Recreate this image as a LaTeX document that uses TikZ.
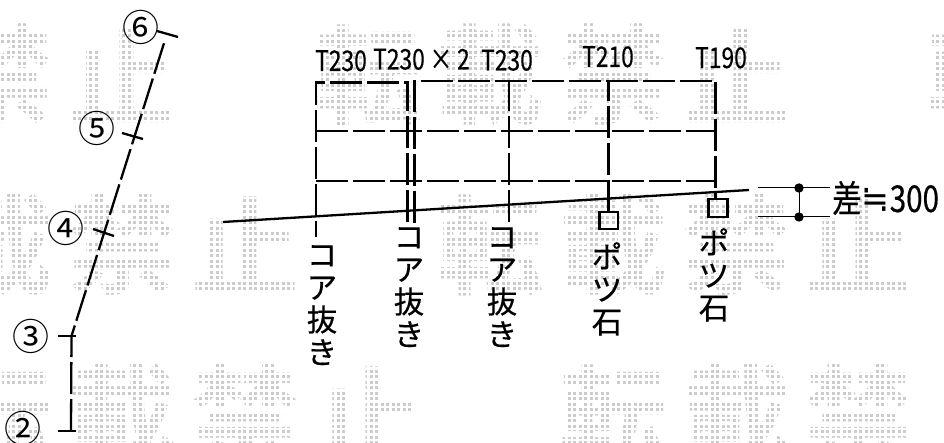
\documentclass[tikz,border=0pt]{standalone}
\usepackage{fontspec}
\newfontfamily\jp[FakeBold=0.4]{Noto Sans CJK JP}
\newfontfamily\jpr{Noto Sans CJK JP}
\newfontfamily\jpn[FakeStretch=0.8,FakeBold=0.4]{Noto Sans CJK JP}
\newfontfamily\wmf{Noto Sans CJK JP Bold}
\newfontfamily\djv[FakeStretch=0.9]{DejaVu Sans}
\tikzset{
  x=1pt,y=-1pt,
  wall/.style={line width=2.3pt,dash pattern=on 32pt off 5pt},
  solidl/.style={line width=2.3pt},
  thinl/.style={line width=1pt},
  thk/.style={font=\jpn\fontsize{28.5}{28.5}\selectfont,inner sep=0pt,anchor=base west},
  num/.style={font=\jpr\fontsize{37}{37}\selectfont,inner sep=0pt},
  vert/.style={font=\jp\fontsize{30.5}{32.5}\selectfont,inner sep=0pt,align=center,anchor=north},
  wmk/.style={font=\wmf\fontsize{108}{108}\selectfont,inner sep=0pt,text=black!20},
}
\begin{document}
\begin{tikzpicture}
  \useasboundingbox (0,0) rectangle (944,443);
  \clip (0,0) rectangle (944,443);
  % watermark
  \foreach \cx/\ch [count=\i] in {0/禁,122.6/止,368/転,490/載,613/禁,736/止,981/転}
  \node [wmk] (wa\i) at (\cx,75) {\ch};
  \foreach \cx/\ch [count=\i] in {0/載,122.6/禁,245/止,490/転,613/載,736/禁,858/止}
  \node [wmk] (wb\i) at (\cx,245) {\ch};
  \foreach \cx/\ch [count=\i] in {0/転,122.6/載,245/禁,368/止,613/転,736/載,858/禁,981/止}
  \node [wmk] (wc\i) at (\cx,415) {\ch};
  \foreach \gx in {0,5.5,...,944}
  \draw [white,line width=2.5pt] (\gx,0) to (\gx,443);
  \foreach \gy in {0,5.5,...,443}
  \draw [white,line width=2.5pt] (0,\gy) to (944,\gy);
  % plan line
  \coordinate (g2) at (71,431);
  \coordinate (g3) at (71.5,336);
  \coordinate (g6) at (165,40);
  \draw [wall] (g2) to (g3) to (g6);
  \draw [solidl] (58,431) to (76,431);
  \draw [solidl] (58,336) to (76,336);
  \draw [solidl] (93,229) to (114,236);
  \draw [solidl] (122,133) to (143,139);
  \draw [solidl] (157,31) to (178,37);
  \node [num] (n6) at (141,27) {⑥};
  \node [num] (n5) at (97,128) {⑤};
  \node [num] (n4) at (66,228) {④};
  \node [num] (n3) at (31,336) {③};
  \node [num] (n2) at (23,428) {②};
  % section
  \draw [wall] (407.5,222) to (407.5,82.5) to (316,82.5) to (316,237);
  \draw [wall] (414.5,223) to (414.5,81) to (715.5,81) to (715.5,200);
  \draw [wall] (509,222) to (509,81);
  \draw [wall] (608.5,212) to (608.5,81);
  \draw [wall] (316,131) to (715.5,131);
  \draw [wall] (316,181) to (715.5,181);
  \coordinate (fl) at (223,222);
  \coordinate (fr) at (749,190);
  \draw [solidl] (fl) to (fr);
  \draw [solidl] (599.5,212) rectangle (618,229);
  \draw [solidl] (708.5,199) rectangle (727.5,217);
  % level difference
  \coordinate (da) at (799,188);
  \coordinate (db) at (799,217);
  \draw [thinl] (758,188) to (830,188);
  \draw [thinl] (758,217) to (830,217);
  \draw [thinl] (da) to (db);
  \foreach \foo in {(da),(db)}
  \fill \foo circle[radius=4.7];
  \node [thk] (t1) at (315,71) {T230};
  \node [thk] (t2) at (373,69.5) {T230\,×\,2};
  \node [thk] (t3) at (481,70.5) {T230};
  \node [thk] (t4) at (582,67) {T210};
  \node [thk] (t5) at (695,68) {T190};
  \node [font=\jpn\fontsize{37}{37}\selectfont,inner sep=0pt,anchor=base west] (d) at (832,212) {差{\djv ≒}300};
  \node [vert] (c1) at (322,245) {コ\\ア\\抜\\き};
  \node [vert] (c2) at (409,227) {コ\\ア\\抜\\き};
  \node [vert] (c3) at (502,227) {コ\\ア\\抜\\き};
  \node [vert] (c4) at (607,242) {ポ\\ツ\\石};
  \node [vert] (c5) at (714,228) {ポ\\ツ\\石};
\end{tikzpicture}
\end{document}
